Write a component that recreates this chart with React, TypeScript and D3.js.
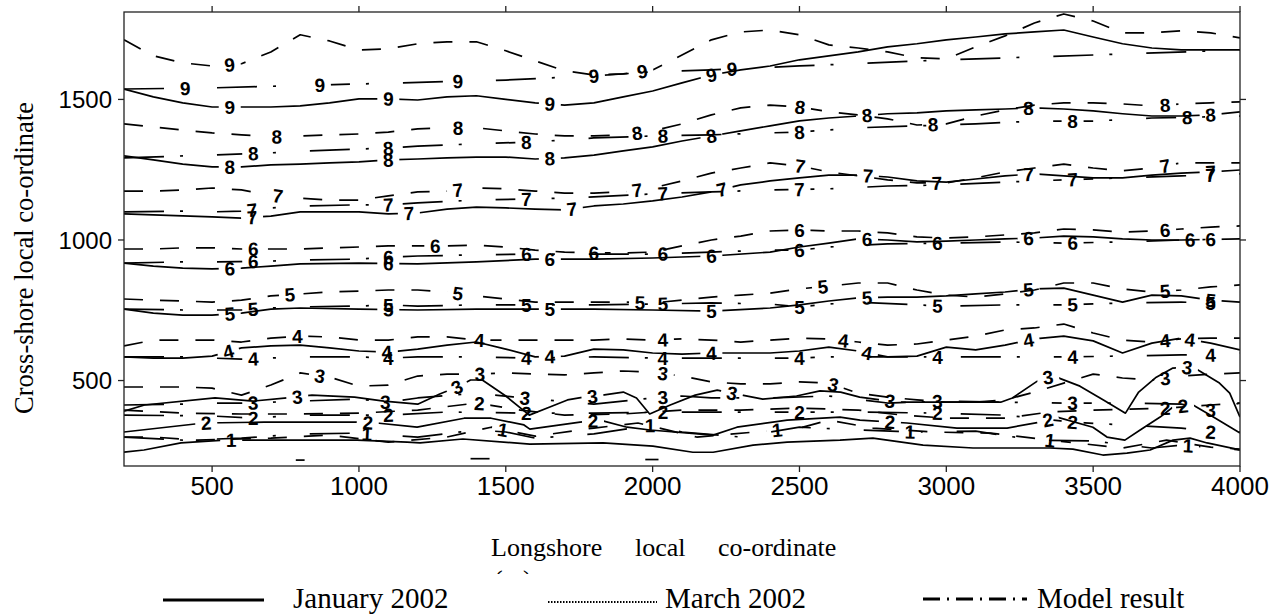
import React from 'react';
import * as d3 from 'd3';

type Pt = [number, number];

// Axis ticks
const xTicks = [500, 1000, 1500, 2000, 2500, 3000, 3500, 4000];
const yTicks = [500, 1000, 1500];

// ---- January 2002 survey contours: [longshore, cross-shore] ----
const jan9: Pt[] = [[200,1537],[300,1509],[400,1488],[500,1473],[700,1473],[800,1477],[900,1488],[1000,1502],[1100,1502],[1200,1498],[1300,1509],[1400,1513],[1500,1500],[1600,1488],[1700,1480],[1800,1488],[1900,1509],[2000,1530],[2100,1559],[2200,1587],[2300,1605],[2400,1619],[2500,1641],[2600,1655],[2700,1669],[2800,1687],[2900,1698],[3000,1712],[3100,1722],[3200,1733],[3300,1740],[3400,1747],[3500,1722],[3600,1698],[3700,1683],[3800,1676],[4000,1676]];
const jan8: Pt[] = [[200,1299],[300,1285],[400,1270],[500,1260],[600,1260],[700,1267],[800,1270],[900,1274],[1000,1278],[1100,1285],[1200,1288],[1300,1292],[1400,1295],[1500,1295],[1600,1288],[1700,1292],[1800,1302],[1900,1317],[2000,1331],[2100,1352],[2200,1370],[2300,1388],[2400,1406],[2500,1424],[2600,1434],[2700,1441],[2800,1449],[2900,1452],[3000,1459],[3100,1463],[3200,1466],[3300,1470],[3400,1466],[3500,1459],[3600,1449],[3700,1441],[3800,1441],[3900,1445],[4000,1456]];
const jan7: Pt[] = [[200,1093],[300,1089],[500,1082],[600,1078],[700,1085],[800,1100],[1000,1100],[1100,1093],[1200,1096],[1300,1110],[1400,1117],[1500,1114],[1600,1110],[1700,1107],[1800,1121],[1900,1128],[2000,1139],[2100,1153],[2200,1171],[2300,1196],[2400,1210],[2500,1221],[2600,1231],[2700,1231],[2800,1224],[2900,1210],[3000,1206],[3100,1217],[3200,1228],[3300,1235],[3400,1228],[3500,1221],[3600,1221],[3700,1231],[3800,1238],[3900,1242],[4000,1249]];
const jan6: Pt[] = [[200,918],[300,907],[400,900],[500,897],[600,900],[700,907],[800,915],[1000,918],[1200,915],[1400,922],[1600,932],[1800,932],[2000,936],[2200,943],[2400,957],[2500,975],[2600,989],[2700,1004],[2800,1000],[2900,993],[3000,996],[3100,1000],[3200,1004],[3300,1007],[3400,1014],[3500,1011],[3600,1004],[3700,1000],[3800,1000],[4000,1004]];
const jan5: Pt[] = [[200,754],[300,740],[400,733],[500,733],[600,740],[700,754],[800,758],[1000,754],[1200,751],[1400,754],[1600,754],[1800,754],[2000,751],[2200,747],[2400,758],[2500,769],[2600,783],[2700,794],[2800,797],[2900,797],[3000,801],[3100,808],[3200,815],[3300,826],[3400,829],[3500,804],[3600,779],[3700,804],[3800,801],[3900,786],[4000,779]];
const jan4: Pt[] = [[200,584],[300,580],[400,580],[500,587],[600,616],[700,623],[800,626],[900,616],[1000,605],[1100,601],[1200,612],[1300,626],[1400,637],[1500,612],[1600,584],[1700,587],[1800,612],[1900,609],[2000,598],[2100,594],[2200,598],[2300,598],[2400,598],[2500,605],[2600,619],[2700,605],[2800,584],[2900,587],[3000,619],[3100,609],[3200,626],[3300,648],[3400,658],[3500,641],[3600,598],[3700,633],[3800,651],[3900,633],[4000,609]];
const jan3: Pt[] = [[200,391],[270,413],[510,438],[640,427],[755,438],[840,448],[985,441],[1085,427],[1200,416],[1275,452],[1335,477],[1380,502],[1420,502],[1500,445],[1580,377],[1650,406],[1710,431],[1765,441],[1830,448],[1900,459],[1945,438],[1990,381],[2060,413],[2145,448],[2220,466],[2270,455],[2375,434],[2490,445],[2570,463],[2640,459],[2705,441],[2775,431],[2840,423],[3185,423],[3225,438],[3330,512],[3375,512],[3455,480],[3535,431],[3610,384],[3655,459],[3715,512],[3770,544],[3840,548],[3930,491],[3965,455],[4000,370]];
const jan2: Pt[] = [[200,317],[472,349],[677,352],[993,352],[1061,349],[1198,334],[1358,366],[1450,366],[1562,342],[1582,327],[1753,352],[1821,359],[1913,334],[1991,324],[2206,306],[2287,334],[2458,359],[2638,370],[2706,359],[2866,349],[3036,331],[3207,331],[3319,352],[3377,370],[3499,334],[3547,299],[3608,288],[3660,324],[3728,370],[3772,406],[3840,413],[3888,384],[4000,313]];
const jan1: Pt[] = [[200,245],[268,253],[394,278],[541,288],[993,288],[1164,281],[1208,278],[1354,292],[1582,274],[1831,278],[2001,267],[2137,245],[2206,245],[2342,270],[2458,281],[2638,288],[2750,295],[2921,270],[3091,260],[3353,260],[3431,256],[3533,235],[3615,242],[3694,253],[3772,288],[3830,295],[3888,278],[4000,253]];

// ---- March 2002 survey contours ----
const mar9: Pt[] = [[200,1712],[300,1655],[400,1630],[500,1619],[600,1627],[700,1669],[800,1730],[900,1708],[1000,1676],[1100,1680],[1200,1698],[1300,1705],[1400,1705],[1500,1673],[1600,1637],[1700,1602],[1800,1587],[1900,1591],[2000,1605],[2100,1658],[2200,1712],[2300,1740],[2400,1747],[2500,1730],[2600,1694],[2700,1683],[2800,1669],[2900,1648],[3000,1644],[3100,1687],[3200,1726],[3300,1772],[3400,1804],[3500,1779],[3600,1737],[3700,1737],[3800,1744],[3900,1737],[4000,1719]];
const mar8: Pt[] = [[200,1413],[300,1402],[400,1391],[500,1381],[600,1374],[700,1367],[800,1370],[900,1374],[1000,1377],[1100,1384],[1200,1395],[1300,1399],[1400,1399],[1500,1388],[1600,1377],[1700,1370],[1800,1370],[1900,1374],[2000,1388],[2100,1413],[2200,1445],[2300,1470],[2400,1480],[2500,1473],[2600,1456],[2700,1445],[2800,1431],[2900,1409],[3000,1413],[3100,1441],[3200,1463],[3300,1480],[3400,1488],[3500,1488],[3600,1484],[3700,1477],[3800,1484],[3900,1488],[4000,1491]];
const mar7: Pt[] = [[200,1174],[300,1174],[400,1178],[500,1185],[600,1178],[700,1160],[800,1149],[900,1142],[1000,1142],[1100,1157],[1200,1171],[1300,1174],[1400,1185],[1500,1182],[1600,1174],[1700,1167],[1800,1167],[1900,1171],[2000,1185],[2100,1210],[2200,1238],[2300,1256],[2400,1274],[2500,1263],[2600,1242],[2700,1228],[2800,1214],[2900,1203],[3000,1203],[3100,1221],[3200,1242],[3300,1256],[3400,1270],[3500,1256],[3600,1246],[3700,1256],[3800,1274],[3900,1274],[4000,1274]];
const mar6: Pt[] = [[200,968],[300,968],[400,972],[500,972],[600,968],[700,968],[800,968],[900,972],[1000,975],[1100,979],[1200,979],[1300,979],[1400,982],[1500,975],[1600,964],[1700,957],[1800,954],[1900,954],[2000,957],[2100,979],[2200,1000],[2300,1014],[2400,1032],[2500,1036],[2600,1032],[2700,1032],[2800,1025],[2900,1011],[3000,1007],[3100,1011],[3200,1018],[3300,1025],[3400,1039],[3500,1036],[3600,1028],[3700,1032],[3800,1039],[3900,1046],[4000,1050]];
const mar5: Pt[] = [[200,790],[300,786],[400,783],[500,779],[600,786],[700,801],[800,808],[900,815],[1000,818],[1100,822],[1200,822],[1300,815],[1400,801],[1500,790],[1600,779],[1700,779],[1800,779],[1900,779],[2000,776],[2100,786],[2200,797],[2300,804],[2400,811],[2500,826],[2600,836],[2700,847],[2800,847],[2900,822],[3000,804],[3100,797],[3200,808],[3300,822],[3400,847],[3500,847],[3600,826],[3700,815],[3800,822],[3900,833],[4000,840]];
const mar4: Pt[] = [[200,623],[300,644],[400,644],[500,644],[600,637],[700,651],[800,658],[900,655],[1000,644],[1100,644],[1200,655],[1300,655],[1400,644],[1500,644],[1600,644],[1700,644],[1800,644],[1900,648],[2000,644],[2100,648],[2200,644],[2300,637],[2400,644],[2500,651],[2600,648],[2700,637],[2800,626],[2900,630],[3000,644],[3100,658],[3200,680],[3300,687],[3400,701],[3500,669],[3600,644],[3700,637],[3800,648],[3900,651],[4000,651]];
const mar3: Pt[] = [[200,477],[300,477],[400,477],[500,473],[600,448],[700,484],[800,527],[900,512],[1000,480],[1100,484],[1200,516],[1300,523],[1400,523],[1500,527],[1600,523],[1700,520],[1800,527],[1900,534],[2000,530],[2100,516],[2200,495],[2300,488],[2400,488],[2500,495],[2600,491],[2700,455],[2800,441],[2900,431],[3000,423],[3100,423],[3200,431],[3300,459],[3400,491],[3500,523],[3600,509],[3700,502],[3800,516],[3900,523],[4000,527]];
const mar2: Pt[] = [[200,395],[400,384],[600,381],[800,381],[1000,384],[1200,395],[1400,420],[1550,395],[1700,377],[1900,381],[2100,395],[2300,395],[2500,402],[2700,395],[2850,377],[3000,366],[3200,366],[3350,388],[3500,395],[3750,402],[3900,413],[4000,420]];
const mar1: Pt[] = [[200,299],[300,299],[450,288],[700,295],[900,306],[1100,281],[1300,299],[1450,334],[1600,302],[1800,331],[1950,349],[2150,299],[2350,317],[2500,331],[2600,359],[2750,331],[2950,317],[3150,313],[3350,288],[3600,260],[3750,288],[3900,263],[4000,256]];
// small isolated March pieces near the toe
const marPieces: Pt[][] = [[[785,217],[815,217]],[[1380,222],[1465,222]],[[1975,219],[2020,219]]];

// ---- Model result contours ----
const mod9: Pt[] = [[200,1537],[500,1541],[1000,1555],[1500,1569],[1800,1584],[2000,1598],[2200,1605],[2500,1619],[3000,1641],[3500,1658],[4000,1676]];
const mod8: Pt[] = [[200,1292],[400,1299],[500,1302],[700,1310],[900,1320],[1100,1327],[1200,1334],[1400,1342],[1600,1349],[1800,1363],[2000,1370],[2200,1374],[2400,1381],[2500,1384],[2700,1399],[2900,1406],[3100,1413],[3300,1423],[3500,1423],[3700,1434],[3900,1438],[4000,1441]];
const mod7: Pt[] = [[200,1100],[400,1103],[500,1100],[600,1103],[700,1114],[800,1121],[1000,1125],[1100,1125],[1200,1132],[1400,1142],[1600,1146],[1800,1153],[2000,1164],[2200,1171],[2400,1178],[2600,1182],[2800,1192],[3000,1196],[3200,1206],[3400,1214],[3600,1221],[3800,1228],[4000,1235]];
const mod6: Pt[] = [[200,918],[400,922],[500,922],[700,925],[800,929],[1000,932],[1100,939],[1200,943],[1400,947],[1600,950],[1800,950],[2000,950],[2200,957],[2400,964],[2500,964],[2600,975],[2800,986],[3000,989],[3200,993],[3400,989],[3600,993],[3800,1000],[4000,1004]];
const mod5: Pt[] = [[200,754],[400,751],[500,751],[600,751],[700,758],[800,762],[1000,765],[1100,769],[1200,765],[1400,769],[1600,769],[1800,769],[2000,772],[2200,776],[2400,772],[2500,762],[2600,772],[2700,779],[2900,769],[3000,765],[3200,769],[3400,769],[3600,776],[3800,779],[3900,776],[4000,779]];
const mod4: Pt[] = [[200,584],[400,584],[600,576],[800,584],[1000,584],[1100,580],[1200,584],[1400,584],[1600,580],[1800,584],[2000,580],[2200,580],[2400,580],[2500,580],[2600,584],[2800,584],[3000,584],[3200,584],[3400,584],[3600,587],[3800,591],[3900,591],[4000,598]];
const mod3: Pt[] = [[200,413],[400,416],[500,420],[600,420],[700,423],[800,427],[1000,434],[1100,423],[1200,438],[1400,455],[1600,434],[1800,416],[2000,438],[2100,445],[2200,438],[2400,438],[2600,445],[2800,420],[3000,427],[3200,423],[3400,420],[3600,420],[3800,416],[3900,395],[4000,420]];
const mod2: Pt[] = [[200,377],[500,374],[640,366],[800,377],[1100,377],[1300,388],[1570,384],[1800,384],[2035,388],[2300,388],[2500,388],[2700,388],[2970,384],[3200,377],[3430,352],[3600,342],[3800,331],[3900,317],[4000,317]];
const mod1: Pt[] = [[200,299],[400,288],[600,295],[800,310],[1000,313],[1200,299],[1400,324],[1500,317],[1600,295],[1800,310],[2000,342],[2100,317],[2300,299],[2500,334],[2700,324],[2900,317],[3100,320],[3300,288],[3500,285],[3700,260],[3800,270],[4000,253]];

// ---- Inline contour labels: [level, longshore position] ----
const janLabels: [number, number][] = [[9,560],[9,1100],[9,1650],[9,2200],[8,560],[8,1100],[8,1650],[8,2200],[8,2730],[8,3280],[8,3900],[7,636],[7,1170],[7,1725],[7,2236],[7,2733],[7,3280],[7,3900],[6,560],[6,1100],[6,1650],[6,2200],[6,2730],[6,3280],[6,3900],[5,560],[5,1100],[5,1650],[5,2200],[5,2730],[5,3280],[5,3900],[4,555],[4,1095],[4,1650],[4,2200],[4,2730],[4,3280],[4,3830],[3,790],[3,1334],[3,1795],[3,2270],[3,2808],[3,3346],[3,3820],[2,480],[2,1030],[2,1797],[2,2808],[2,3346],[2,3806],[1,565]];
const marLabels: [number, number][] = [[9,560],[9,1965],[8,720],[8,1337],[8,1947],[8,2502],[8,2955],[8,3745],[7,724],[7,1337],[7,1947],[7,2502],[7,2968],[7,3745],[6,640],[6,1260],[6,1800],[6,2500],[6,3745],[5,765],[5,1337],[5,1957],[5,2580],[5,3745],[4,790],[4,1410],[4,2035],[4,2650],[4,3745],[3,867],[3,1412],[3,2035],[3,2615],[3,3745],[2,1410],[2,3745],[1,1490],[1,2424],[1,3353]];
const modLabels: [number, number][] = [[9,408],[9,867],[9,1337],[9,1800],[9,2270],[8,640],[8,1100],[8,1570],[8,2035],[8,2500],[8,3430],[8,3820],[7,636],[7,1100],[7,1570],[7,2035],[7,2500],[7,3430],[7,3900],[6,640],[6,1100],[6,1570],[6,2035],[6,2500],[6,2970],[6,3430],[6,3830],[5,640],[5,1100],[5,1570],[5,2035],[5,2500],[5,2970],[5,3430],[5,3900],[4,640],[4,1100],[4,1570],[4,2035],[4,2500],[4,2970],[4,3430],[4,3900],[3,640],[3,1090],[3,1565],[3,2035],[3,2970],[3,3430],[3,3900],[2,640],[2,1100],[2,1570],[2,2035],[2,2500],[2,2970],[2,3430],[2,3900],[1,1027],[1,1991],[1,2876],[1,3823]];

type Series = {
  key: string;
  name: string;
  dash: string | undefined;
  lines: Record<number, Pt[]>;
  labels: [number, number][];
  pieces: Pt[][];
};

const series: Series[] = [
  { key: 'jan', name: 'January 2002', dash: undefined,
    lines: { 1: jan1, 2: jan2, 3: jan3, 4: jan4, 5: jan5, 6: jan6, 7: jan7, 8: jan8, 9: jan9 },
    labels: janLabels, pieces: [] },
  { key: 'mar', name: 'March 2002', dash: '19 17',
    lines: { 1: mar1, 2: mar2, 3: mar3, 4: mar4, 5: mar5, 6: mar6, 7: mar7, 8: mar8, 9: mar9 },
    labels: marLabels, pieces: marPieces },
  { key: 'mod', name: 'Model result', dash: '40 16 3 34',
    lines: { 1: mod1, 2: mod2, 3: mod3, 4: mod4, 5: mod5, 6: mod6, 7: mod7, 8: mod8, 9: mod9 },
    labels: modLabels, pieces: [] },
];

const W = 1282;
const H = 616;
const plot = { left: 124, right: 1240, top: 12, bottom: 466 };

const x = d3.scaleLinear().domain([200, 4000]).range([plot.left, plot.right]);
const y = d3.scaleLinear().domain([196, 1811]).range([plot.bottom, plot.top]);

const lineGen = d3.line<Pt>().x(d => x(d[0])).y(d => y(d[1])).curve(d3.curveLinear);

function interp(pts: Pt[], xv: number): number {
  if (xv <= pts[0][0]) return pts[0][1];
  for (let i = 1; i < pts.length; i++) {
    if (xv <= pts[i][0]) {
      const [x0, y0] = pts[i - 1];
      const [x1, y1] = pts[i];
      return y0 + ((xv - x0) / (x1 - x0)) * (y1 - y0);
    }
  }
  return pts[pts.length - 1][1];
}

type Placed = { px: number; py: number; ang: number; text: string };

function placeLabels(s: Series, level: number): Placed[] {
  const pts = s.lines[level];
  return s.labels
    .filter(l => l[0] === level)
    .map(([lv, xv]) => {
      const px = x(xv);
      const py = y(interp(pts, xv));
      const ax = x(xv - 45), ay = y(interp(pts, xv - 45));
      const bx = x(xv + 45), by = y(interp(pts, xv + 45));
      let ang = (Math.atan2(by - ay, bx - ax) * 180) / Math.PI;
      ang = Math.max(-35, Math.min(35, ang));
      return { px, py, ang, text: String(lv) };
    });
}

const levels = [1, 2, 3, 4, 5, 6, 7, 8, 9];
const numFont = '"Liberation Sans", Arial, Helvetica, sans-serif';
const serifFont = '"Liberation Serif", "Times New Roman", Times, serif';

export default function App() {
  const placed: { s: Series; level: number; labels: Placed[] }[] = [];
  series.forEach(s => levels.forEach(level => placed.push({ s, level, labels: placeLabels(s, level) })));

  return (
    <svg width={W} height={H} style={{ position: 'absolute', left: 0, top: 0, background: '#fff' }}>
      <defs>
        <clipPath id="plot-area">
          <rect x={plot.left} y={plot.top} width={plot.right - plot.left} height={plot.bottom - plot.top} />
        </clipPath>
        <clipPath id="unit-clip"><rect x={480} y={560} width={80} height={14} /></clipPath>
        {placed.map(({ s, level, labels }) => (
          <mask key={`m-${s.key}-${level}`} id={`m-${s.key}-${level}`} maskUnits="userSpaceOnUse" x={0} y={0} width={W} height={H}>
            <rect x={0} y={0} width={W} height={H} fill="#fff" />
            {labels.map((l, i) => (
              <rect key={i} x={l.px - 11} y={l.py - 9} width={22} height={18} fill="#000"
                transform={`rotate(${l.ang} ${l.px} ${l.py})`} />
            ))}
          </mask>
        ))}
      </defs>

      {/* contour lines */}
      <g clipPath="url(#plot-area)" fill="none" stroke="#000" strokeWidth={1.7} strokeLinejoin="round">
        {placed.map(({ s, level }) => (
          <path key={`l-${s.key}-${level}`} d={lineGen(s.lines[level]) || ''}
            strokeDasharray={s.dash} mask={`url(#m-${s.key}-${level})`} />
        ))}
        {series.map(s => s.pieces.map((p, i) => (
          <path key={`p-${s.key}-${i}`} d={lineGen(p) || ''} strokeDasharray={s.dash} />
        )))}
      </g>

      {/* inline labels */}
      <g fontFamily={numFont} fontSize={19} fontWeight="bold" fill="#000" textAnchor="middle">
        {placed.map(({ s, level, labels }) => labels.map((l, i) => (
          <text key={`t-${s.key}-${level}-${i}`} x={l.px} y={l.py} dy="0.36em"
            transform={`rotate(${l.ang} ${l.px} ${l.py})`}>{l.text}</text>
        )))}
      </g>

      {/* frame and ticks */}
      <g stroke="#222" strokeWidth={1.3} fill="none">
        <rect x={plot.left} y={plot.top} width={plot.right - plot.left} height={plot.bottom - plot.top} />
        {xTicks.map(t => (
          <g key={`xt-${t}`}>
            <line x1={x(t)} x2={x(t)} y1={plot.bottom} y2={plot.bottom + 6} />
            <line x1={x(t)} x2={x(t)} y1={plot.top} y2={plot.top - 6} />
          </g>
        ))}
        {yTicks.map(t => (
          <g key={`yt-${t}`}>
            <line x1={plot.left - 6} x2={plot.left} y1={y(t)} y2={y(t)} />
            <line x1={plot.right} x2={plot.right + 6} y1={y(t)} y2={y(t)} />
          </g>
        ))}
      </g>

      {/* tick labels */}
      <g fontFamily={numFont} fill="#000">
        {xTicks.map(t => (
          <text key={`xl-${t}`} x={x(t)} y={plot.bottom + 29} fontSize={26} textAnchor="middle">{t}</text>
        ))}
        {yTicks.map(t => (
          <text key={`yl-${t}`} x={plot.left - 12} y={y(t) + 8.6} fontSize={24} textAnchor="end">{t}</text>
        ))}
      </g>

      {/* axis titles */}
      <g fontFamily={serifFont} fill="#000">
        <text transform="translate(33,258) rotate(-90)" fontSize={26.5} textAnchor="middle">Cross-shore local co-ordinate</text>
        <text x={491} y={556} fontSize={26}>Longshore</text>
        <text x={635} y={556} fontSize={26}>local</text>
        <text x={718} y={556} fontSize={26}>co-ordinate</text>
        <text x={494} y={588} fontSize={26} clipPath="url(#unit-clip)">(m)</text>
      </g>

      {/* legend */}
      <g fontFamily={serifFont} fontSize={29} fill="#000">
        <line x1={163} x2={264} y1={600} y2={600} stroke="#000" strokeWidth={3} />
        <text x={293} y={608}>January 2002</text>
        <line x1={548} x2={657} y1={602} y2={602} stroke="#000" strokeWidth={2} strokeDasharray="1.5 1.5" />
        <text x={665} y={608}>March 2002</text>
        <line x1={923} x2={1027} y1={599} y2={599} stroke="#000" strokeWidth={3} strokeDasharray="17 7 2 7" />
        <text x={1037} y={608}>Model result</text>
      </g>
    </svg>
  );
}
